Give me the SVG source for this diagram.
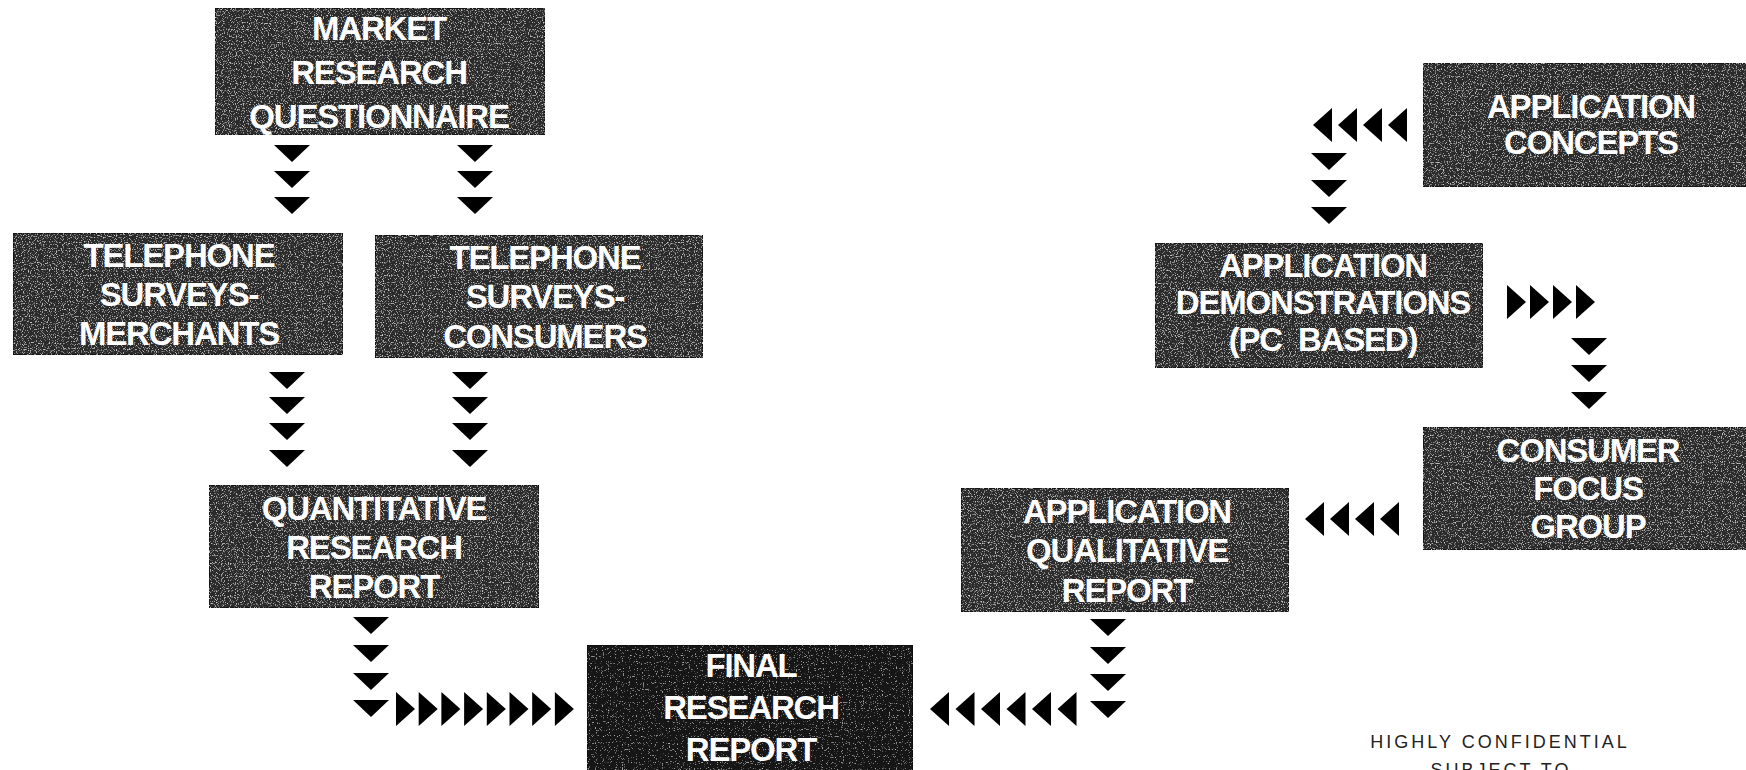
<svg xmlns="http://www.w3.org/2000/svg" width="1746" height="770" viewBox="0 0 1746 770">
  <defs>
    <style>
      .box { stroke: #111; stroke-width: 1.5; }
      .gray { fill: #2a2a2a; }
      .dark { fill: #141414; }
      .lbl { font-family: "Liberation Sans", Arial, sans-serif; font-weight: bold; font-size: 33px; letter-spacing: -1.2px; fill: #fff; text-anchor: middle; }
      .note { font-family: "Liberation Sans", Arial, sans-serif; font-size: 18px; letter-spacing: 3px; fill: #222; text-anchor: middle; }
      .tri { fill: #000; }
    </style>
    <!-- halftone grain laid over the box fills -->
    <filter id="grain" x="0" y="0" width="100%" height="100%">
      <feTurbulence type="fractalNoise" baseFrequency="0.85" numOctaves="1" seed="7" result="noise"/>
      <feColorMatrix in="noise" type="matrix" values="0 0 0 0 0.62  0 0 0 0 0.62  0 0 0 0 0.62  5 0 0 0 -2.75" result="specks"/>
      <feComposite in="specks" in2="SourceGraphic" operator="in" result="clipped"/>
      <feMerge>
        <feMergeNode in="SourceGraphic"/>
        <feMergeNode in="clipped"/>
      </feMerge>
    </filter>
    <filter id="grainDark" x="0" y="0" width="100%" height="100%">
      <feTurbulence type="fractalNoise" baseFrequency="0.85" numOctaves="1" seed="11" result="noise"/>
      <feColorMatrix in="noise" type="matrix" values="0 0 0 0 0.55  0 0 0 0 0.55  0 0 0 0 0.55  5 0 0 0 -3.1" result="specks"/>
      <feComposite in="specks" in2="SourceGraphic" operator="in" result="clipped"/>
      <feMerge>
        <feMergeNode in="SourceGraphic"/>
        <feMergeNode in="clipped"/>
      </feMerge>
    </filter>
    <!-- arrow glyph shapes -->
    <path id="dn" d="M-18,0 H18 L0,17 Z"/>
    <path id="rt" d="M0,-17 L19,0 L0,17 Z"/>
    <path id="lt" d="M0,-17 L-19,0 L0,17 Z"/>
  </defs>

  <rect width="1746" height="770" fill="#fff"/>

  <!-- nodes -->
  <g id="market-research-questionnaire">
    <rect class="box gray" x="215" y="8" width="330" height="127" filter="url(#grain)"/>
    <text class="lbl" x="379" y="40">MARKET</text>
    <text class="lbl" x="379" y="84">RESEARCH</text>
    <text class="lbl" x="379" y="128">QUESTIONNAIRE</text>
  </g>

  <g id="telephone-surveys-merchants">
    <rect class="box gray" x="13" y="233" width="330" height="122" filter="url(#grain)"/>
    <text class="lbl" x="179" y="267">TELEPHONE</text>
    <text class="lbl" x="179" y="306">SURVEYS-</text>
    <text class="lbl" x="179" y="345">MERCHANTS</text>
  </g>

  <g id="telephone-surveys-consumers">
    <rect class="box gray" x="375" y="235" width="328" height="123" filter="url(#grain)"/>
    <text class="lbl" x="545" y="269">TELEPHONE</text>
    <text class="lbl" x="545" y="308">SURVEYS-</text>
    <text class="lbl" x="545" y="348">CONSUMERS</text>
  </g>

  <g id="quantitative-research-report">
    <rect class="box gray" x="209" y="485" width="330" height="123" filter="url(#grain)"/>
    <text class="lbl" x="374" y="520">QUANTITATIVE</text>
    <text class="lbl" x="374" y="559">RESEARCH</text>
    <text class="lbl" x="374" y="598">REPORT</text>
  </g>

  <g id="final-research-report">
    <rect class="box dark" x="587" y="645" width="326" height="140" filter="url(#grainDark)"/>
    <text class="lbl" x="751" y="677">FINAL</text>
    <text class="lbl" x="751" y="719">RESEARCH</text>
    <text class="lbl" x="751" y="761">REPORT</text>
  </g>

  <g id="application-qualitative-report">
    <rect class="box gray" x="961" y="488" width="328" height="124" filter="url(#grain)"/>
    <text class="lbl" x="1127" y="523">APPLICATION</text>
    <text class="lbl" x="1127" y="562">QUALITATIVE</text>
    <text class="lbl" x="1127" y="602">REPORT</text>
  </g>

  <g id="consumer-focus-group">
    <rect class="box gray" x="1423" y="427" width="330" height="123" filter="url(#grain)"/>
    <text class="lbl" x="1588" y="462">CONSUMER</text>
    <text class="lbl" x="1588" y="500">FOCUS</text>
    <text class="lbl" x="1588" y="538">GROUP</text>
  </g>

  <g id="application-demonstrations">
    <rect class="box gray" x="1155" y="243" width="328" height="125" filter="url(#grain)"/>
    <text class="lbl" x="1323" y="277">APPLICATION</text>
    <text class="lbl" x="1323" y="314">DEMONSTRATIONS</text>
    <text class="lbl" x="1323" y="351">(PC&#160;&#160;BASED)</text>
  </g>

  <g id="application-concepts">
    <rect class="box gray" x="1423" y="63" width="330" height="124" filter="url(#grain)"/>
    <text class="lbl" x="1591" y="118">APPLICATION</text>
    <text class="lbl" x="1591" y="154">CONCEPTS</text>
  </g>

  <!-- connectors: chains of arrowheads -->
  <g id="connectors" class="tri">
    <!-- questionnaire to merchant survey -->
    <use href="#dn" x="292" y="145"/>
    <use href="#dn" x="292" y="171"/>
    <use href="#dn" x="292" y="197"/>
    <!-- questionnaire to consumer survey -->
    <use href="#dn" x="475" y="145"/>
    <use href="#dn" x="475" y="171"/>
    <use href="#dn" x="475" y="197"/>
    <!-- merchant survey to quantitative report -->
    <use href="#dn" x="287" y="372"/>
    <use href="#dn" x="287" y="397"/>
    <use href="#dn" x="287" y="423"/>
    <use href="#dn" x="287" y="450"/>
    <!-- consumer survey to quantitative report -->
    <use href="#dn" x="470" y="372"/>
    <use href="#dn" x="470" y="397"/>
    <use href="#dn" x="470" y="423"/>
    <use href="#dn" x="470" y="450"/>
    <!-- quantitative report to final report -->
    <use href="#dn" x="371" y="617"/>
    <use href="#dn" x="371" y="645"/>
    <use href="#dn" x="371" y="673"/>
    <use href="#dn" x="371" y="700"/>
    <use href="#rt" x="396" y="709"/>
    <use href="#rt" x="418.7" y="709"/>
    <use href="#rt" x="441.4" y="709"/>
    <use href="#rt" x="464.1" y="709"/>
    <use href="#rt" x="486.8" y="709"/>
    <use href="#rt" x="509.5" y="709"/>
    <use href="#rt" x="532.2" y="709"/>
    <use href="#rt" x="554.9" y="709"/>
    <!-- qualitative report to final report -->
    <use href="#dn" x="1108" y="619"/>
    <use href="#dn" x="1108" y="647"/>
    <use href="#dn" x="1108" y="674"/>
    <use href="#dn" x="1108" y="701"/>
    <use href="#lt" x="949" y="709"/>
    <use href="#lt" x="974.5" y="709"/>
    <use href="#lt" x="1000" y="709"/>
    <use href="#lt" x="1025.5" y="709"/>
    <use href="#lt" x="1051" y="709"/>
    <use href="#lt" x="1076.5" y="709"/>
    <!-- concepts to demonstrations -->
    <use href="#lt" x="1332" y="125"/>
    <use href="#lt" x="1357" y="125"/>
    <use href="#lt" x="1382" y="125"/>
    <use href="#lt" x="1407" y="125"/>
    <use href="#dn" x="1329" y="153"/>
    <use href="#dn" x="1329" y="180"/>
    <use href="#dn" x="1329" y="207"/>
    <!-- demonstrations to focus group -->
    <use href="#rt" x="1507" y="302"/>
    <use href="#rt" x="1530" y="302"/>
    <use href="#rt" x="1553" y="302"/>
    <use href="#rt" x="1576" y="302"/>
    <use href="#dn" x="1589" y="338"/>
    <use href="#dn" x="1589" y="365"/>
    <use href="#dn" x="1589" y="392"/>
    <!-- focus group to qualitative report -->
    <use href="#lt" x="1324" y="519"/>
    <use href="#lt" x="1349" y="519"/>
    <use href="#lt" x="1374" y="519"/>
    <use href="#lt" x="1399" y="519"/>
  </g>

  <!-- footer notice, running off the lower edge -->
  <g id="notice">
    <text class="note" x="1500" y="748">HIGHLY CONFIDENTIAL</text>
    <text class="note" x="1501" y="776">SUBJECT TO</text>
  </g>
</svg>
